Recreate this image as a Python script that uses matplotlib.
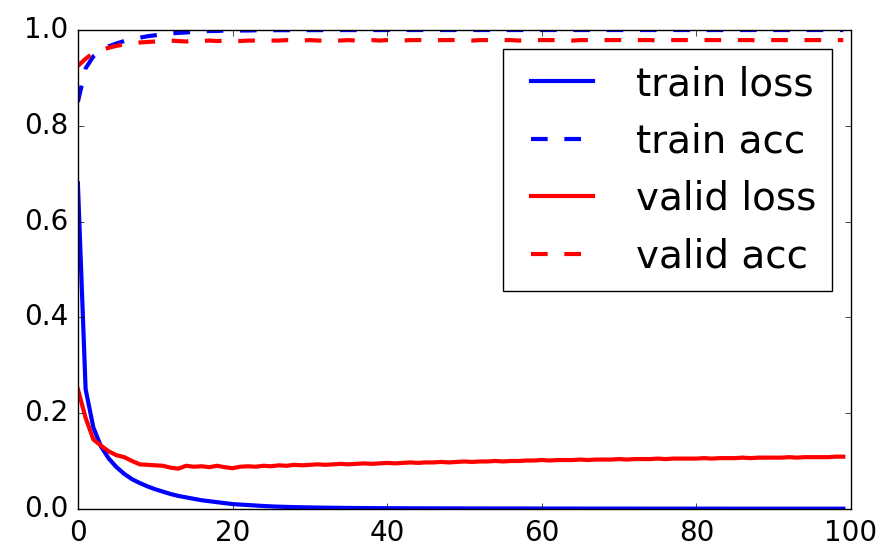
import matplotlib
matplotlib.use('Agg')
import matplotlib.pyplot as plt

plt.style.use('classic')

epochs = list(range(100))

train_loss = [
    0.680, 0.250, 0.170, 0.130, 0.105, 0.087, 0.073, 0.062, 0.054, 0.047,
    0.041, 0.036, 0.031, 0.027, 0.024, 0.021, 0.018, 0.016, 0.014, 0.012,
    0.010, 0.009, 0.008, 0.007, 0.006, 0.0052, 0.0046, 0.0041, 0.0037, 0.0033,
    0.0030, 0.0027, 0.0025, 0.0023, 0.0021, 0.0019, 0.0018, 0.0017, 0.0016, 0.0015,
    0.0014, 0.0013, 0.0013, 0.0012, 0.0012, 0.0011, 0.0011, 0.0010, 0.0010, 0.0010,
    0.0009, 0.0009, 0.0009, 0.0009, 0.0008, 0.0008, 0.0008, 0.0008, 0.0008, 0.0007,
    0.0007, 0.0007, 0.0007, 0.0007, 0.0007, 0.0006, 0.0006, 0.0006, 0.0006, 0.0006,
    0.0006, 0.0006, 0.0006, 0.0005, 0.0005, 0.0005, 0.0005, 0.0005, 0.0005, 0.0005,
    0.0005, 0.0005, 0.0005, 0.0005, 0.0004, 0.0004, 0.0004, 0.0004, 0.0004, 0.0004,
    0.0004, 0.0004, 0.0004, 0.0004, 0.0004, 0.0004, 0.0004, 0.0004, 0.0004, 0.0004,
]

train_acc = [
    0.850, 0.920, 0.945, 0.958, 0.966, 0.972, 0.977, 0.981, 0.984, 0.987,
    0.989, 0.991, 0.993, 0.994, 0.995, 0.996, 0.997, 0.998, 0.998, 0.999,
    0.999, 0.999, 0.999, 0.9995, 0.9995, 0.9996, 0.9997, 0.9997, 0.9998, 0.9998,
    0.9998, 0.9998, 0.9999, 0.9999, 0.9999, 0.9999, 0.9999, 0.9999, 0.9999, 0.9999,
    1.000, 1.000, 1.000, 1.000, 1.000, 1.000, 1.000, 1.000, 1.000, 1.000,
    1.000, 1.000, 1.000, 1.000, 1.000, 1.000, 1.000, 1.000, 1.000, 1.000,
    1.000, 1.000, 1.000, 1.000, 1.000, 1.000, 1.000, 1.000, 1.000, 1.000,
    1.000, 1.000, 1.000, 1.000, 1.000, 1.000, 1.000, 1.000, 1.000, 1.000,
    1.000, 1.000, 1.000, 1.000, 1.000, 1.000, 1.000, 1.000, 1.000, 1.000,
    1.000, 1.000, 1.000, 1.000, 1.000, 1.000, 1.000, 1.000, 1.000, 1.000,
]

valid_loss = [
    0.250, 0.190, 0.145, 0.132, 0.120, 0.112, 0.108, 0.100, 0.093, 0.092,
    0.091, 0.090, 0.086, 0.084, 0.090, 0.088, 0.089, 0.087, 0.090, 0.087,
    0.085, 0.088, 0.089, 0.088, 0.090, 0.089, 0.091, 0.090, 0.092, 0.091,
    0.092, 0.093, 0.092, 0.093, 0.094, 0.093, 0.094, 0.095, 0.094, 0.095,
    0.096, 0.095, 0.096, 0.097, 0.096, 0.097, 0.097, 0.098, 0.097, 0.098,
    0.099, 0.098, 0.099, 0.099, 0.100, 0.099, 0.100, 0.100, 0.101, 0.101,
    0.102, 0.101, 0.102, 0.102, 0.102, 0.103, 0.102, 0.103, 0.103, 0.103,
    0.104, 0.103, 0.104, 0.104, 0.104, 0.105, 0.104, 0.105, 0.105, 0.105,
    0.105, 0.106, 0.105, 0.106, 0.106, 0.106, 0.107, 0.106, 0.107, 0.107,
    0.107, 0.107, 0.108, 0.107, 0.108, 0.108, 0.108, 0.108, 0.109, 0.109,
]

valid_acc = [
    0.925, 0.940, 0.952, 0.958, 0.963, 0.967, 0.970, 0.972, 0.974, 0.975,
    0.976, 0.977, 0.978, 0.977, 0.976, 0.978, 0.977, 0.978, 0.977, 0.978,
    0.978, 0.977, 0.978, 0.978, 0.977, 0.978, 0.978, 0.979, 0.978, 0.978,
    0.979, 0.978, 0.978, 0.979, 0.978, 0.979, 0.978, 0.979, 0.979, 0.978,
    0.979, 0.979, 0.978, 0.979, 0.979, 0.979, 0.978, 0.979, 0.979, 0.979,
    0.979, 0.978, 0.979, 0.979, 0.979, 0.979, 0.979, 0.978, 0.979, 0.979,
    0.979, 0.979, 0.979, 0.979, 0.978, 0.979, 0.979, 0.979, 0.979, 0.979,
    0.979, 0.979, 0.979, 0.979, 0.979, 0.978, 0.979, 0.979, 0.979, 0.979,
    0.979, 0.979, 0.979, 0.979, 0.979, 0.979, 0.979, 0.979, 0.978, 0.979,
    0.979, 0.979, 0.979, 0.979, 0.979, 0.979, 0.979, 0.979, 0.979, 0.979,
]

fig = plt.figure(figsize=(8.85, 5.46), dpi=100, facecolor='white')
ax = fig.add_subplot(111)
fig.subplots_adjust(left=0.088, right=0.9616, bottom=0.068, top=0.945)

dash = (0, (12, 12))
ax.plot(epochs, train_loss, color='b', lw=3, label='train loss')
ax.plot(epochs, train_acc, color='b', lw=3, linestyle=dash, label='train acc')
ax.plot(epochs, valid_loss, color='r', lw=3, label='valid loss')
ax.plot(epochs, valid_acc, color='r', lw=3, linestyle=dash, label='valid acc')

ax.set_xlim(0, 100)
ax.set_ylim(0, 1.0)
ax.set_xticks([0, 20, 40, 60, 80, 100])
ax.set_yticks([0.0, 0.2, 0.4, 0.6, 0.8, 1.0])
ax.tick_params(labelsize=20, pad=7)

ax.legend(loc='upper right', fontsize=28, handlelength=2.2,
          labelspacing=0.5, numpoints=2)

fig.savefig('out.png', dpi=100, facecolor='white')
